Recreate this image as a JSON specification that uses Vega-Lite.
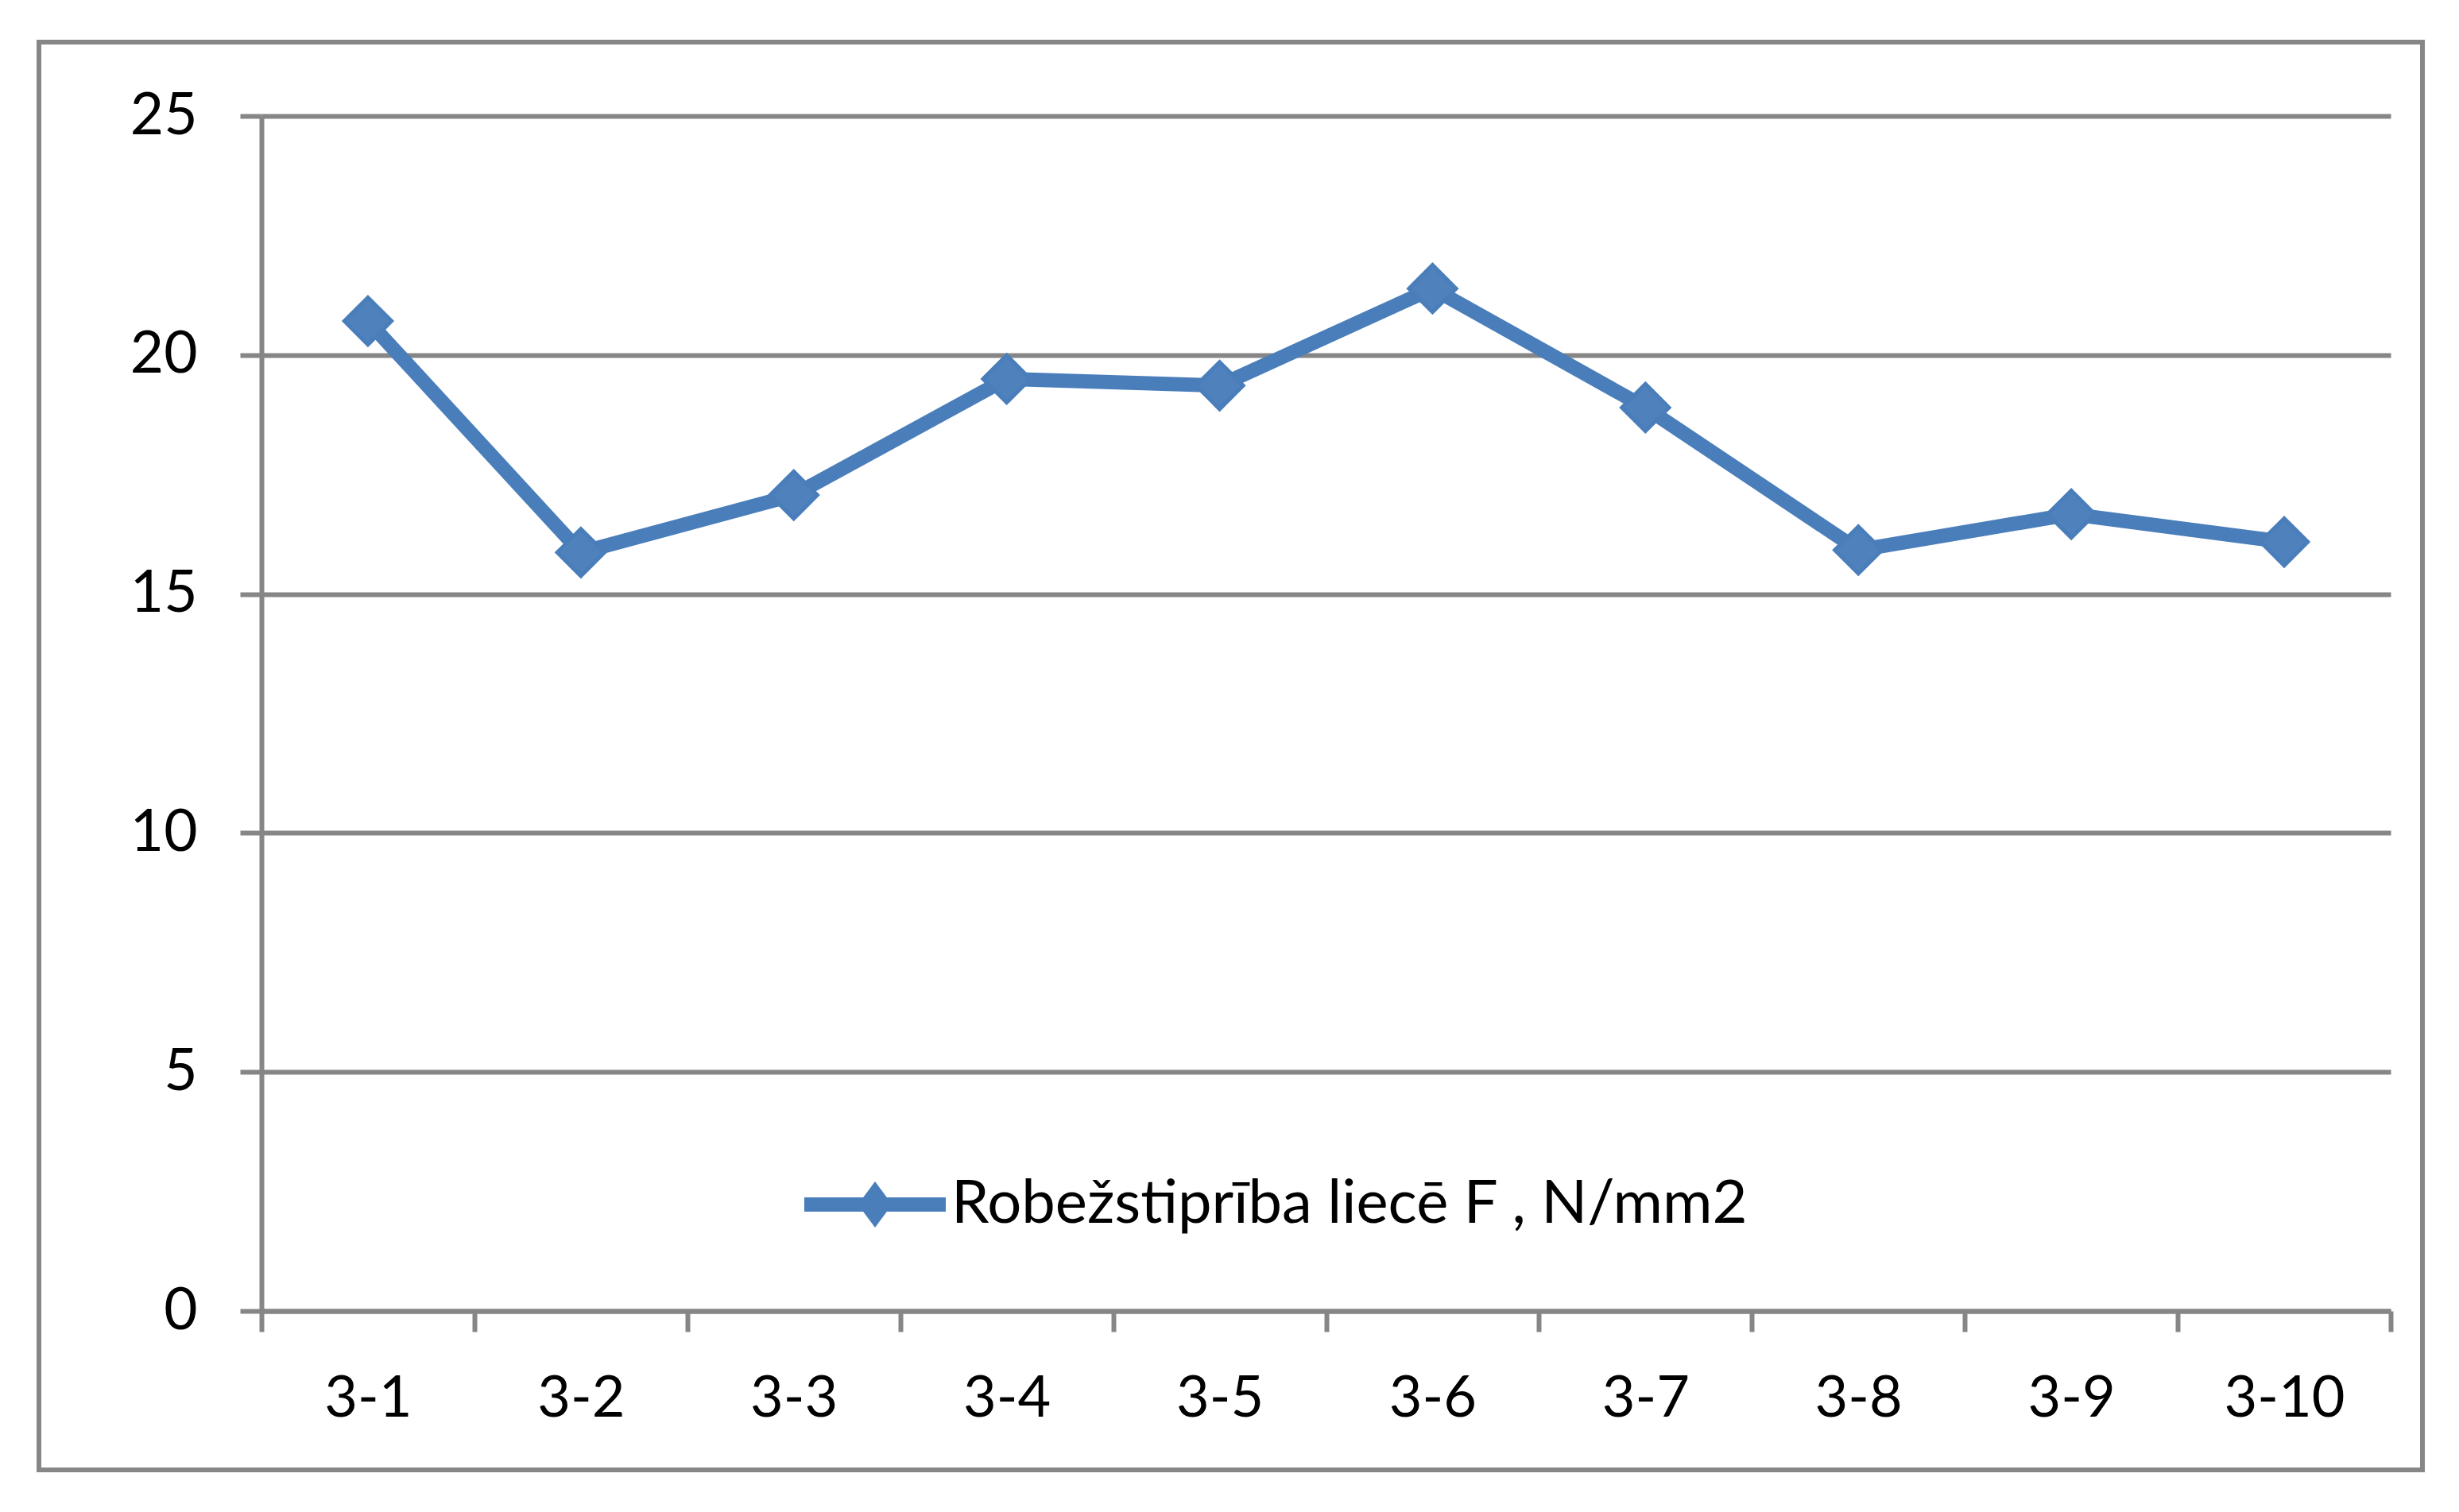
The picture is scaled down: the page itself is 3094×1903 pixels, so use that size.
{
  "$schema": "https://vega.github.io/schema/vega-lite/v6.json",
  "autosize": {"type": "none"},
  "padding": {"left": 49, "top": 53, "right": 46, "bottom": 53},
  "width": 2999,
  "height": 1797,
  "background": "white",
  "config": {
    "view": {"stroke": "#868686", "strokeWidth": 6, "fill": "white"},
    "font": "Lato"
  },
  "data": {
    "values": [
      {"sample": "3-1", "value": 20.71},
      {"sample": "3-2", "value": 15.87},
      {"sample": "3-3", "value": 17.07},
      {"sample": "3-4", "value": 19.50},
      {"sample": "3-5", "value": 19.36},
      {"sample": "3-6", "value": 21.39},
      {"sample": "3-7", "value": 18.90},
      {"sample": "3-8", "value": 15.92},
      {"sample": "3-9", "value": 16.67},
      {"sample": "3-10", "value": 16.09}
    ]
  },
  "encoding": {
    "x": {
      "field": "sample",
      "type": "ordinal",
      "sort": null,
      "scale": {"type": "band", "range": [280, 2959], "paddingInner": 0, "paddingOuter": 0},
      "axis": {
        "title": null,
        "offset": -200,
        "tickBand": "extent",
        "grid": false,
        "domainColor": "#868686",
        "domainWidth": 6,
        "tickColor": "#868686",
        "tickWidth": 6,
        "tickSize": 26,
        "labelFont": "Lato",
        "labelFontSize": 72,
        "labelColor": "black",
        "labelPadding": 49,
        "labelAngle": 0
      }
    },
    "y": {
      "field": "value",
      "type": "quantitative",
      "scale": {"domain": [0, 25], "range": [1597, 93], "nice": false, "zero": true},
      "axis": {
        "title": null,
        "offset": -280,
        "values": [0, 5, 10, 15, 20, 25],
        "grid": true,
        "gridColor": "#868686",
        "gridWidth": 6,
        "gridOpacity": 1,
        "domainColor": "#868686",
        "domainWidth": 6,
        "tickColor": "#868686",
        "tickWidth": 6,
        "tickSize": 27,
        "labelFont": "Lato",
        "labelFontSize": 73,
        "labelColor": "black",
        "labelPadding": 54
      }
    }
  },
  "layer": [
    {
      "mark": {"type": "line", "color": "#4A7EBB", "strokeWidth": 18, "strokeJoin": "round"}
    },
    {
      "mark": {"type": "point", "shape": "diamond", "filled": true, "size": 3500, "opacity": 1, "fill": "#4F81BD", "stroke": "#4A7EBB", "strokeWidth": 5},
      "encoding": {
        "color": {
          "datum": "Robežstiprība liecē F , N/mm2",
          "scale": {"range": ["#4A7EBB"]},
          "legend": {
            "title": null,
            "orient": "none",
            "legendX": 963,
            "legendY": 1374,
            "padding": 0,
            "symbolType": "M-1,-0.101L1,-0.101L1,0.101L-1,0.101Z M-0.242,0L0,-0.326L0.242,0L0,0.326Z",
            "symbolSize": 31684,
            "symbolFillColor": "#4A7EBB",
            "symbolStrokeColor": "#4A7EBB",
            "symbolStrokeWidth": 0,
            "symbolOpacity": 1,
            "labelFont": "Lato",
            "labelFontSize": 76,
            "labelColor": "black",
            "labelOffset": 7,
            "labelLimit": 3000,
            "encode": {
              "symbols": {
                "update": {
                  "shape": {"value": "M-1,-0.101L1,-0.101L1,0.101L-1,0.101Z M-0.242,0L0,-0.326L0.242,0L0,0.326Z"},
                  "fill": {"value": "#4A7EBB"},
                  "stroke": {"value": "#4A7EBB"},
                  "strokeWidth": {"value": 0},
                  "opacity": {"value": 1},
                  "size": {"value": 31684}
                }
              }
            }
          }
        }
      }
    }
  ]
}
